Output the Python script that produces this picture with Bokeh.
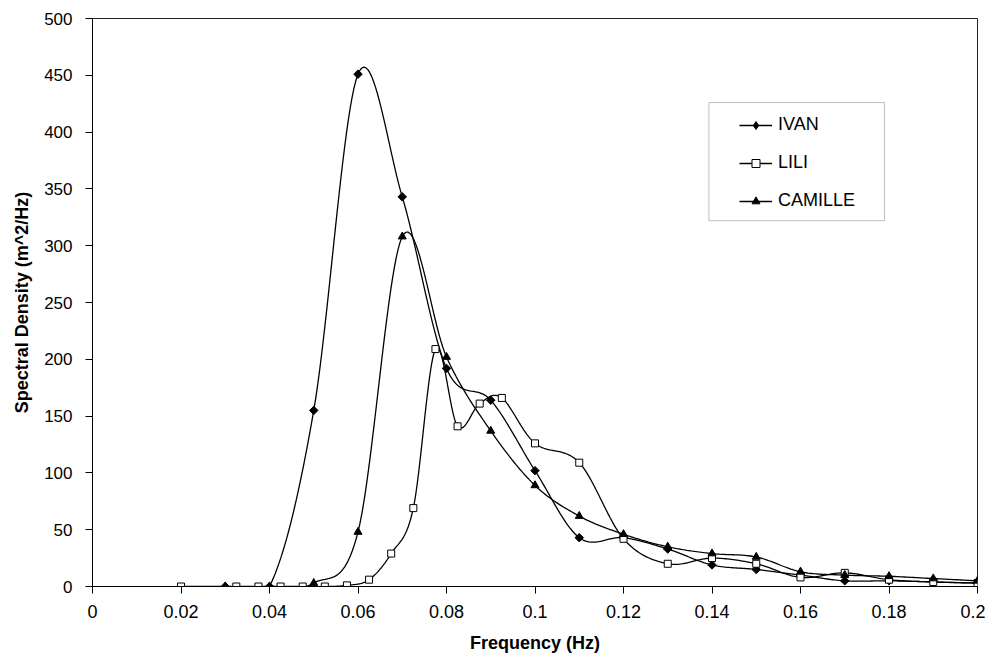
import numpy as np
from bokeh.plotting import figure
from bokeh.models import (Range1d, FixedTicker, Legend, LegendItem, BoxAnnotation)
from bokeh.embed import file_html
from bokeh.resources import INLINE

# ---- data ----
ivan_f = [0.03, 0.04, 0.05, 0.06, 0.07, 0.08, 0.09, 0.10, 0.11, 0.12, 0.13, 0.14,
          0.15, 0.16, 0.17, 0.18, 0.19, 0.20]
ivan_s = [0, 0, 155, 451, 343, 192, 164, 102, 43, 43, 33, 19, 15, 10, 5, 5, 4, 3]

lili_f = [0.02, 0.0325, 0.0375, 0.0425, 0.0475, 0.0525, 0.0575, 0.0625, 0.0675,
          0.0725, 0.0775, 0.0825, 0.0875, 0.0925, 0.10, 0.11, 0.12, 0.13, 0.14,
          0.15, 0.16, 0.17, 0.18, 0.19, 0.20]
lili_s = [0, 0, 0, 0, 0, 0, 1, 6, 29, 69, 209, 141, 161, 166, 126, 109, 42, 20, 25,
          20, 8, 12, 6, 4, 3]

cam_f = [0.03, 0.04, 0.05, 0.06, 0.07, 0.08, 0.09, 0.10, 0.11, 0.12, 0.13, 0.14,
         0.15, 0.16, 0.17, 0.18, 0.19, 0.20]
cam_s = [0, 0, 3, 48, 308, 202, 137, 89, 62, 46, 35, 29, 26, 13, 10, 9, 7, 5]

x_ticks = [0, 0.02, 0.04, 0.06, 0.08, 0.1, 0.12, 0.14, 0.16, 0.18, 0.2]
x_tick_labels = ["0", "0.02", "0.04", "0.06", "0.08", "0.1", "0.12", "0.14", "0.16", "0.18", "0.2"]
y_ticks = [0, 50, 100, 150, 200, 250, 300, 350, 400, 450, 500]

series_names = ["IVAN", "LILI", "CAMILLE"]


def smooth(xs, ys, n=24):
    """Excel-style smoothed line (Catmull-Rom Bezier through the points)."""
    x = np.asarray(xs, float)
    y = np.asarray(ys, float)
    px = np.concatenate([[x[0]], x, [x[-1]]])
    py = np.concatenate([[y[0]], y, [y[-1]]])
    t = np.linspace(0, 1, n)
    ox, oy = [], []
    for i in range(len(x) - 1):
        p0 = np.array([px[i], py[i]])
        p1 = np.array([px[i + 1], py[i + 1]])
        p2 = np.array([px[i + 2], py[i + 2]])
        p3 = np.array([px[i + 3], py[i + 3]])
        c1 = p1 + (p2 - p0) / 6.0
        c2 = p2 - (p3 - p1) / 6.0
        a = (1 - t) ** 3
        b = 3 * (1 - t) ** 2 * t
        c = 3 * (1 - t) * t ** 2
        d = t ** 3
        seg_x = a * p1[0] + b * c1[0] + c * c2[0] + d * p2[0]
        seg_y = a * p1[1] + b * c1[1] + c * c2[1] + d * p2[1]
        if i > 0:
            seg_x, seg_y = seg_x[1:], seg_y[1:]
        ox.extend(seg_x)
        oy.extend(seg_y)
    return ox, oy


FONT = "Liberation Sans"

p = figure(width=985, height=657, output_backend="svg", toolbar_location=None,
           x_range=Range1d(0, 0.2), y_range=Range1d(0, 500),
           min_border_left=92, min_border_right=8, min_border_top=18,
           min_border_bottom=71)
p.background_fill_color = "white"
p.border_fill_color = "white"
p.outline_line_color = "#222222"
p.outline_line_width = 1
p.xgrid.visible = False
p.ygrid.visible = False

# axes
p.xaxis.ticker = FixedTicker(ticks=x_ticks)
p.xaxis.major_label_overrides = dict(zip(x_ticks, x_tick_labels))
p.yaxis.ticker = FixedTicker(ticks=y_ticks)
for ax in (p.xaxis[0], p.yaxis[0]):
    ax.minor_tick_line_color = None
    ax.major_tick_in = 0
    ax.major_tick_out = 7
    ax.major_tick_line_color = "black"
    ax.axis_line_color = "black"
    ax.major_label_text_font = FONT
    ax.major_label_text_color = "black"
    ax.axis_label_text_font = FONT
    ax.axis_label_text_font_style = "bold"
    ax.axis_label_text_color = "black"
    ax.axis_label_text_font_size = "18px"
p.xaxis.major_label_text_font_size = "18px"
p.yaxis.major_label_text_font_size = "17px"
p.xaxis.major_label_standoff = 11
p.yaxis.major_label_standoff = 13
p.xaxis.axis_label = "Frequency (Hz)"
p.yaxis.axis_label = "Spectral Density (m^2/Hz)"
p.xaxis.axis_label_standoff = 12
p.yaxis.axis_label_standoff = 9

# legend frame
p.add_layout(BoxAnnotation(left=0.1393, right=0.1790, bottom=322, top=426,
                           fill_color="white", fill_alpha=1,
                           line_color="#333333", line_width=1, level="annotation"))

# series
lx, ly = smooth(ivan_f, ivan_s)
l1 = p.line(lx, ly, line_color="black", line_width=1.3)
s1 = p.scatter(ivan_f, ivan_s, marker="square", angle=np.pi / 4, size=6,
               fill_color="black", line_color="black")
# legend-only diamond glyph (hidden in the plot area)
s1_leg = p.scatter(ivan_f, ivan_s, marker="diamond", size=11,
                   fill_color="black", line_color="black", visible=False)

lx, ly = smooth(lili_f, lili_s)
l2 = p.line(lx, ly, line_color="black", line_width=1.3)
s2 = p.scatter(lili_f, lili_s, marker="square", size=7,
               fill_color="white", line_color="black", line_width=1)

lx, ly = smooth(cam_f, cam_s)
l3 = p.line(lx, ly, line_color="black", line_width=1.3)
s3 = p.scatter(cam_f, cam_s, marker="triangle", size=8,
               fill_color="black", line_color="black")

legend = Legend(items=[LegendItem(label=series_names[0], renderers=[l1, s1_leg]),
                       LegendItem(label=series_names[1], renderers=[l2, s2]),
                       LegendItem(label=series_names[2], renderers=[l3, s3])],
                location=(647, 375))
legend.padding = 0
legend.margin = 0
legend.spacing = 17
legend.glyph_width = 33
legend.glyph_height = 20
legend.label_height = 20
legend.label_standoff = 6
legend.label_text_font = FONT
legend.label_text_font_size = "18px"
legend.label_text_color = "black"
legend.border_line_alpha = 0
legend.background_fill_alpha = 0
p.add_layout(legend)

open("out.html", "w").write(file_html(p, INLINE))
